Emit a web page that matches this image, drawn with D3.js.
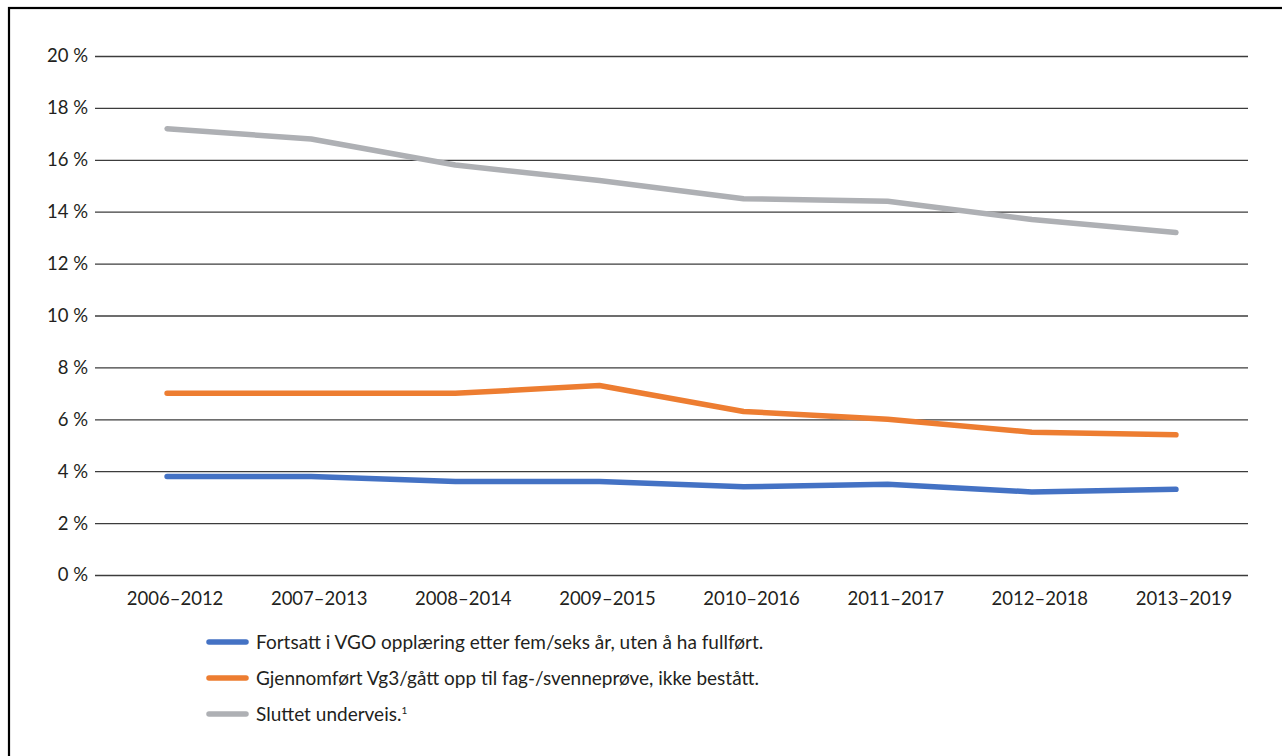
<!DOCTYPE html>
<html>
<head>
<meta charset="utf-8">
<script src="https://cdn.jsdelivr.net/npm/d3@7"></script>
<style>
  html, body { margin: 0; padding: 0; background: #fff; }
  svg { display: block; }
  text { font-family: "Lato", "Noto Sans", sans-serif; fill: #231f20; }
</style>
</head>
<body>
<svg id="chart" width="1282" height="756"></svg>
<script>
// Cohort periods (start year – five/six-year follow-up)
const categories = ["2006–2012", "2007–2013", "2008–2014", "2009–2015",
                    "2010–2016", "2011–2017", "2012–2018", "2013–2019"];

// Share of the cohort, in percent
const fortsatt    = [3.8, 3.8, 3.6, 3.6, 3.4, 3.5, 3.2, 3.3];
const gjennomfort = [7.0, 7.0, 7.0, 7.3, 6.3, 6.0, 5.5, 5.4];
const sluttet     = [17.2, 16.8, 15.8, 15.2, 14.5, 14.4, 13.7, 13.2];

const seriesNames = [
  "Fortsatt i VGO opplæring etter fem/seks år, uten å ha fullført.",
  "Gjennomført Vg3/gått opp til fag-/svenneprøve, ikke bestått.",
  "Sluttet underveis."
];
const seriesColors = ["#4472c4", "#ed7d31", "#aeb0b4"];
const yTicks = [0, 2, 4, 6, 8, 10, 12, 14, 16, 18, 20];

const series = [fortsatt, gjennomfort, sluttet].map((values, i) => ({
  name: seriesNames[i], color: seriesColors[i], values
}));

const svg = d3.select("#chart");

// Outer frame
svg.append("rect")
  .attr("x", 9).attr("y", 8)
  .attr("width", 1300).attr("height", 800)
  .attr("fill", "none").attr("stroke", "#000").attr("stroke-width", 2.2);

const plot = { left: 95, right: 1248, top: 56, bottom: 575 };

const x = d3.scaleBand().domain(categories).range([plot.left, plot.right]);
const y = d3.scaleLinear().domain([0, 20]).range([plot.bottom, plot.top]);

// Horizontal gridlines with percent labels
const yAxis = d3.axisLeft(y)
  .tickValues(yTicks)
  .tickSize(-(plot.right - plot.left))
  .tickPadding(7)
  .tickFormat(d => d + " %");

const gy = svg.append("g")
  .attr("transform", `translate(${plot.left},0)`)
  .call(yAxis);
gy.select(".domain").remove();
gy.selectAll(".tick line").attr("stroke", "#3c3c3c").attr("stroke-width", 1.3);
gy.selectAll(".tick text")
  .attr("font-size", 18.5)
  .style("font-family", "Lato, 'Noto Sans', sans-serif")
  .attr("fill", "#231f20");

// Category labels
const xAxis = d3.axisBottom(x).tickSize(0).tickPadding(17);
const gx = svg.append("g")
  .attr("transform", `translate(0,${plot.bottom})`)
  .call(xAxis);
gx.select(".domain").remove();
gx.selectAll(".tick text")
  .attr("font-size", 18.5)
  .attr("dx", 8)
  .style("font-family", "Lato, 'Noto Sans', sans-serif")
  .attr("fill", "#231f20");

// Series lines
const line = d3.line()
  .x((d, i) => x(categories[i]) + x.bandwidth() / 2)
  .y(d => y(d));

svg.append("g").selectAll("path")
  .data(series)
  .join("path")
  .attr("d", d => line(d.values))
  .attr("fill", "none")
  .attr("stroke", d => d.color)
  .attr("stroke-width", 5.5)
  .attr("stroke-linecap", "round")
  .attr("stroke-linejoin", "round");

// Legend
const legend = svg.append("g").attr("transform", "translate(209,642)");
const items = legend.selectAll("g")
  .data(series)
  .join("g")
  .attr("transform", (d, i) => `translate(0,${i * 36})`);

items.append("line")
  .attr("x1", 0).attr("x2", 37)
  .attr("stroke", d => d.color)
  .attr("stroke-width", 5.5)
  .attr("stroke-linecap", "round");

const labels = items.append("text")
  .attr("x", 47)
  .attr("dy", "0.35em")
  .attr("font-size", 19)
  .text(d => d.name);

// Footnote marker on the last entry
labels.filter((d, i) => i === 2)
  .append("tspan")
  .attr("font-size", 10)
  .attr("dy", "-0.7em")
  .text("1");
</script>
</body>
</html>
